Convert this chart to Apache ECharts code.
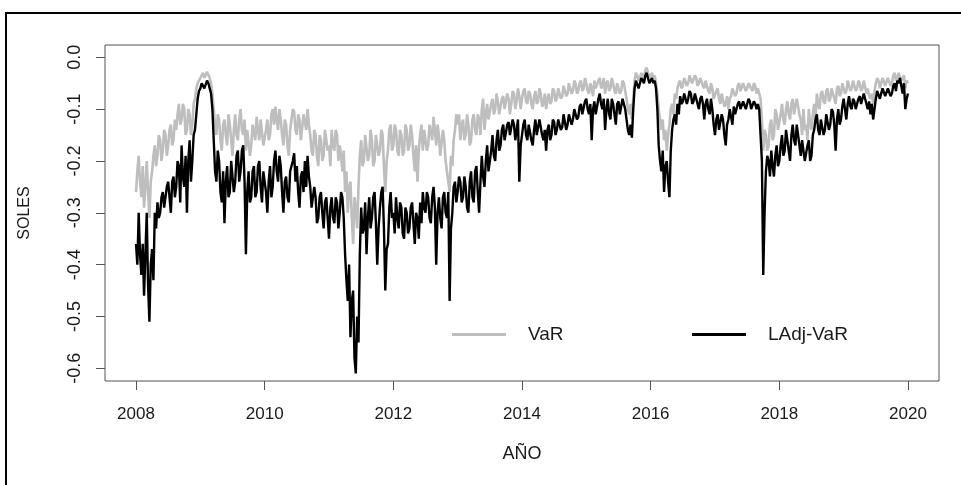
<!DOCTYPE html>
<html>
<head>
<meta charset="utf-8">
<script src="https://cdn.jsdelivr.net/npm/echarts@6/dist/echarts.min.js"></script>
<style>
  html, body { margin: 0; padding: 0; background: #fff; }
  #chart { width: 961px; height: 485px; }
</style>
</head>
<body>
<div id="chart"></div>
<script>
// lecturas cada ~semana y media (48 por año), 2008.0 .. 2020.0
const varVals = [
  // 2008
  -0.26,-0.22,-0.19,-0.24,-0.27,-0.21,-0.29,-0.25,
  -0.20,-0.26,-0.31,-0.24,-0.22,-0.19,-0.17,-0.21,
  -0.19,-0.15,-0.16,-0.20,-0.18,-0.14,-0.15,-0.19,
  -0.17,-0.14,-0.13,-0.17,-0.16,-0.12,-0.14,-0.11,
  -0.09,-0.13,-0.12,-0.09,-0.10,-0.15,-0.14,-0.10,
  -0.11,-0.15,-0.13,-0.09,-0.08,-0.06,-0.05,-0.045,
  // 2009
  -0.04,-0.035,-0.03,-0.04,-0.035,-0.028,-0.03,-0.04,
  -0.05,-0.07,-0.10,-0.13,-0.15,-0.11,-0.12,-0.16,
  -0.18,-0.13,-0.12,-0.15,-0.17,-0.11,-0.13,-0.16,
  -0.19,-0.14,-0.11,-0.15,-0.16,-0.12,-0.10,-0.14,
  -0.15,-0.12,-0.18,-0.14,-0.14,-0.19,-0.17,-0.13,
  -0.13,-0.16,-0.115,-0.14,-0.16,-0.12,-0.12,-0.17,
  // 2010
  -0.17,-0.14,-0.12,-0.16,-0.15,-0.11,-0.10,-0.13,
  -0.095,-0.12,-0.14,-0.10,-0.12,-0.15,-0.17,-0.12,
  -0.13,-0.17,-0.19,-0.14,-0.12,-0.10,-0.105,-0.14,
  -0.15,-0.11,-0.12,-0.16,-0.16,-0.11,-0.11,-0.14,
  -0.10,-0.13,-0.15,-0.18,-0.19,-0.14,-0.15,-0.19,
  -0.21,-0.15,-0.16,-0.20,-0.19,-0.14,-0.14,-0.18,
  // 2011
  -0.17,-0.21,-0.14,-0.17,-0.18,-0.14,-0.15,-0.20,
  -0.17,-0.19,-0.22,-0.18,-0.26,-0.22,-0.30,-0.25,
  -0.24,-0.31,-0.36,-0.27,-0.29,-0.33,-0.25,-0.19,
  -0.16,-0.21,-0.20,-0.15,-0.15,-0.20,-0.19,-0.14,
  -0.16,-0.21,-0.20,-0.15,-0.15,-0.19,-0.18,-0.14,
  -0.15,-0.21,-0.26,-0.20,-0.18,-0.14,-0.13,-0.18,
  // 2012
  -0.17,-0.13,-0.14,-0.18,-0.19,-0.14,-0.15,-0.19,
  -0.18,-0.13,-0.14,-0.18,-0.17,-0.13,-0.15,-0.19,
  -0.22,-0.17,-0.24,-0.18,-0.15,-0.13,-0.18,-0.14,
  -0.14,-0.18,-0.17,-0.13,-0.13,-0.16,-0.115,-0.14,
  -0.17,-0.13,-0.15,-0.19,-0.19,-0.14,-0.16,-0.20,
  -0.20,-0.24,-0.26,-0.19,-0.21,-0.16,-0.14,-0.11,
  // 2013
  -0.13,-0.11,-0.16,-0.13,-0.12,-0.16,-0.15,-0.11,
  -0.13,-0.17,-0.16,-0.12,-0.11,-0.14,-0.15,-0.11,
  -0.12,-0.15,-0.10,-0.08,-0.14,-0.11,-0.09,-0.12,
  -0.12,-0.09,-0.08,-0.11,-0.10,-0.07,-0.085,-0.11,
  -0.11,-0.08,-0.075,-0.10,-0.10,-0.07,-0.08,-0.11,
  -0.09,-0.065,-0.07,-0.10,-0.085,-0.06,-0.075,-0.10,
  // 2014
  -0.08,-0.065,-0.06,-0.085,-0.09,-0.065,-0.07,-0.09,
  -0.10,-0.075,-0.065,-0.09,-0.085,-0.06,-0.07,-0.095,
  -0.09,-0.07,-0.10,-0.08,-0.07,-0.09,-0.085,-0.06,
  -0.065,-0.085,-0.08,-0.06,-0.06,-0.08,-0.075,-0.055,
  -0.055,-0.075,-0.07,-0.05,-0.05,-0.07,-0.065,-0.045,
  -0.05,-0.07,-0.065,-0.05,-0.045,-0.065,-0.06,-0.04,
  // 2015
  -0.05,-0.065,-0.07,-0.05,-0.06,-0.075,-0.045,-0.06,
  -0.06,-0.045,-0.04,-0.06,-0.055,-0.04,-0.07,-0.05,
  -0.045,-0.065,-0.06,-0.04,-0.05,-0.065,-0.07,-0.05,
  -0.05,-0.07,-0.065,-0.045,-0.05,-0.065,-0.08,-0.10,
  -0.11,-0.09,-0.12,-0.08,-0.045,-0.03,-0.035,-0.045,
  -0.04,-0.03,-0.03,-0.04,-0.025,-0.02,-0.03,-0.04,
  // 2016
  -0.035,-0.03,-0.04,-0.035,-0.05,-0.07,-0.10,-0.12,
  -0.14,-0.12,-0.16,-0.14,-0.18,-0.15,-0.13,-0.10,
  -0.09,-0.11,-0.07,-0.08,-0.06,-0.05,-0.045,-0.06,
  -0.055,-0.04,-0.04,-0.055,-0.05,-0.035,-0.035,-0.05,
  -0.05,-0.035,-0.04,-0.055,-0.05,-0.04,-0.04,-0.055,
  -0.06,-0.045,-0.045,-0.065,-0.07,-0.05,-0.06,-0.08,
  // 2017
  -0.08,-0.065,-0.06,-0.08,-0.09,-0.07,-0.07,-0.095,
  -0.09,-0.075,-0.10,-0.08,-0.075,-0.06,-0.06,-0.075,
  -0.07,-0.055,-0.05,-0.065,-0.065,-0.05,-0.05,-0.065,
  -0.06,-0.05,-0.05,-0.06,-0.065,-0.05,-0.055,-0.07,
  -0.06,-0.07,-0.08,-0.12,-0.18,-0.14,-0.15,-0.18,
  -0.17,-0.13,-0.12,-0.16,-0.15,-0.10,-0.11,-0.14,
  // 2018
  -0.14,-0.11,-0.09,-0.12,-0.13,-0.10,-0.085,-0.11,
  -0.12,-0.09,-0.08,-0.11,-0.11,-0.08,-0.08,-0.11,
  -0.12,-0.15,-0.10,-0.14,-0.13,-0.16,-0.10,-0.13,
  -0.14,-0.11,-0.09,-0.12,-0.07,-0.09,-0.10,-0.07,
  -0.065,-0.085,-0.09,-0.065,-0.06,-0.085,-0.08,-0.06,
  -0.06,-0.08,-0.09,-0.06,-0.055,-0.075,-0.07,-0.05,
  // 2019
  -0.05,-0.07,-0.065,-0.045,-0.045,-0.065,-0.06,-0.045,
  -0.045,-0.065,-0.06,-0.045,-0.05,-0.065,-0.06,-0.045,
  -0.045,-0.07,-0.06,-0.075,-0.08,-0.07,-0.09,-0.065,
  -0.05,-0.04,-0.045,-0.06,-0.06,-0.04,-0.04,-0.055,
  -0.055,-0.04,-0.04,-0.055,-0.05,-0.035,-0.03,-0.045,
  -0.04,-0.03,-0.03,-0.045,-0.045,-0.035,-0.06,-0.045,
  // 2020
  -0.05
];

const ladjVals = [
  // 2008
  -0.36,-0.40,-0.30,-0.38,-0.42,-0.36,-0.46,-0.38,
  -0.30,-0.44,-0.51,-0.40,-0.37,-0.43,-0.30,-0.33,
  -0.28,-0.31,-0.30,-0.27,-0.26,-0.29,-0.29,-0.25,
  -0.24,-0.27,-0.30,-0.24,-0.23,-0.27,-0.25,-0.20,
  -0.21,-0.28,-0.17,-0.23,-0.25,-0.19,-0.30,-0.20,
  -0.16,-0.24,-0.20,-0.15,-0.14,-0.11,-0.08,-0.065,
  // 2009
  -0.06,-0.05,-0.05,-0.06,-0.06,-0.045,-0.05,-0.06,
  -0.07,-0.10,-0.16,-0.22,-0.24,-0.18,-0.20,-0.26,
  -0.28,-0.22,-0.32,-0.24,-0.21,-0.27,-0.26,-0.20,
  -0.20,-0.26,-0.24,-0.19,-0.18,-0.24,-0.22,-0.18,
  -0.17,-0.24,-0.38,-0.26,-0.22,-0.28,-0.27,-0.22,
  -0.21,-0.27,-0.26,-0.21,-0.20,-0.25,-0.28,-0.22,
  // 2010
  -0.22,-0.26,-0.30,-0.24,-0.21,-0.27,-0.25,-0.20,
  -0.18,-0.22,-0.24,-0.19,-0.21,-0.26,-0.30,-0.24,
  -0.23,-0.27,-0.28,-0.22,-0.22,-0.20,-0.185,-0.24,
  -0.21,-0.26,-0.29,-0.23,-0.22,-0.26,-0.20,-0.25,
  -0.19,-0.23,-0.25,-0.29,-0.29,-0.25,-0.27,-0.32,
  -0.31,-0.27,-0.26,-0.30,-0.33,-0.28,-0.27,-0.31,
  // 2011
  -0.35,-0.29,-0.27,-0.31,-0.32,-0.27,-0.28,-0.33,
  -0.30,-0.26,-0.27,-0.31,-0.38,-0.43,-0.47,-0.40,
  -0.54,-0.47,-0.45,-0.58,-0.61,-0.50,-0.55,-0.38,
  -0.29,-0.34,-0.33,-0.28,-0.38,-0.31,-0.27,-0.33,
  -0.31,-0.27,-0.26,-0.32,-0.40,-0.33,-0.29,-0.26,
  -0.25,-0.33,-0.45,-0.37,-0.36,-0.29,-0.26,-0.31,
  // 2012
  -0.30,-0.34,-0.27,-0.31,-0.33,-0.28,-0.29,-0.34,
  -0.35,-0.29,-0.30,-0.34,-0.33,-0.29,-0.28,-0.32,
  -0.36,-0.30,-0.31,-0.35,-0.28,-0.32,-0.26,-0.29,
  -0.30,-0.26,-0.27,-0.31,-0.32,-0.27,-0.25,-0.29,
  -0.40,-0.30,-0.27,-0.31,-0.33,-0.27,-0.26,-0.30,
  -0.31,-0.26,-0.47,-0.33,-0.30,-0.25,-0.24,-0.28,
  // 2013
  -0.26,-0.23,-0.24,-0.28,-0.27,-0.23,-0.25,-0.29,
  -0.30,-0.24,-0.22,-0.27,-0.28,-0.22,-0.21,-0.26,
  -0.30,-0.24,-0.19,-0.23,-0.25,-0.20,-0.17,-0.22,
  -0.22,-0.18,-0.15,-0.19,-0.20,-0.16,-0.14,-0.18,
  -0.17,-0.14,-0.13,-0.16,-0.16,-0.13,-0.125,-0.15,
  -0.15,-0.12,-0.13,-0.16,-0.14,-0.12,-0.24,-0.17,
  // 2014
  -0.15,-0.13,-0.12,-0.15,-0.16,-0.13,-0.13,-0.16,
  -0.17,-0.14,-0.12,-0.15,-0.15,-0.12,-0.12,-0.15,
  -0.16,-0.14,-0.18,-0.14,-0.13,-0.16,-0.15,-0.12,
  -0.125,-0.15,-0.14,-0.12,-0.12,-0.14,-0.135,-0.11,
  -0.11,-0.14,-0.13,-0.11,-0.11,-0.13,-0.12,-0.10,
  -0.10,-0.12,-0.115,-0.095,-0.09,-0.11,-0.11,-0.085,
  // 2015
  -0.08,-0.10,-0.11,-0.09,-0.16,-0.10,-0.085,-0.11,
  -0.11,-0.08,-0.07,-0.09,-0.10,-0.08,-0.14,-0.10,
  -0.08,-0.11,-0.12,-0.08,-0.09,-0.11,-0.13,-0.09,
  -0.085,-0.11,-0.11,-0.08,-0.08,-0.10,-0.12,-0.14,
  -0.15,-0.13,-0.155,-0.10,-0.06,-0.045,-0.045,-0.06,
  -0.05,-0.04,-0.04,-0.05,-0.035,-0.03,-0.04,-0.05,
  // 2016
  -0.045,-0.04,-0.05,-0.045,-0.06,-0.10,-0.17,-0.20,
  -0.22,-0.18,-0.26,-0.21,-0.20,-0.24,-0.27,-0.18,
  -0.14,-0.12,-0.11,-0.13,-0.09,-0.11,-0.075,-0.09,
  -0.085,-0.07,-0.07,-0.09,-0.08,-0.065,-0.07,-0.09,
  -0.085,-0.07,-0.07,-0.09,-0.10,-0.08,-0.075,-0.09,
  -0.12,-0.09,-0.08,-0.10,-0.11,-0.08,-0.10,-0.13,
  // 2017
  -0.15,-0.12,-0.11,-0.14,-0.14,-0.11,-0.12,-0.15,
  -0.17,-0.13,-0.12,-0.10,-0.115,-0.13,-0.095,-0.11,
  -0.11,-0.09,-0.085,-0.10,-0.10,-0.085,-0.085,-0.10,
  -0.09,-0.08,-0.085,-0.10,-0.10,-0.085,-0.09,-0.10,
  -0.09,-0.10,-0.15,-0.20,-0.42,-0.30,-0.22,-0.19,
  -0.20,-0.23,-0.18,-0.21,-0.23,-0.19,-0.17,-0.21,
  // 2018
  -0.20,-0.17,-0.15,-0.19,-0.18,-0.14,-0.14,-0.18,
  -0.20,-0.15,-0.13,-0.16,-0.17,-0.13,-0.13,-0.17,
  -0.19,-0.16,-0.16,-0.20,-0.20,-0.17,-0.16,-0.20,
  -0.19,-0.15,-0.14,-0.12,-0.11,-0.14,-0.15,-0.12,
  -0.12,-0.15,-0.14,-0.11,-0.11,-0.14,-0.13,-0.10,
  -0.105,-0.13,-0.18,-0.12,-0.10,-0.13,-0.12,-0.095,
  // 2019
  -0.08,-0.10,-0.12,-0.09,-0.075,-0.095,-0.10,-0.08,
  -0.085,-0.10,-0.10,-0.08,-0.075,-0.09,-0.09,-0.07,
  -0.07,-0.09,-0.10,-0.085,-0.11,-0.09,-0.12,-0.10,
  -0.08,-0.065,-0.065,-0.08,-0.08,-0.06,-0.06,-0.075,
  -0.075,-0.06,-0.06,-0.075,-0.07,-0.055,-0.05,-0.065,
  -0.045,-0.05,-0.04,-0.055,-0.07,-0.05,-0.10,-0.08,
  // 2020
  -0.07
];

const yearTicks = [2008, 2010, 2012, 2014, 2016, 2018, 2020];
const solesTicks = [-0.6, -0.5, -0.4, -0.3, -0.2, -0.1, 0.0];

// fecha de cada lectura
const fechas = varVals.map((_, i) => 2008 + i / 48);

const textColor = "#1a1a1a";
const font = "Liberation Sans, Arial, sans-serif";

const chart = echarts.init(document.getElementById("chart"), null, { renderer: "canvas" });

const option = {
  animation: false,
  backgroundColor: "#fff",
  graphic: [
    {
      type: "rect",
      shape: { x: 6, y: 13, width: 1000, height: 520 },
      style: { fill: "none", stroke: "#000", lineWidth: 2 },
      silent: true,
    },
  ],
  grid: {
    left: 105,
    right: 22,
    top: 45,
    bottom: 104,
    show: true,
    borderColor: "#555",
    borderWidth: 1,
    backgroundColor: "transparent",
  },
  legend: [
    {
      data: ["VaR"],
      left: 447,
      top: 320,
      icon: "rect",
      itemWidth: 54,
      itemHeight: 3,
      textStyle: { color: textColor, fontSize: 19, fontFamily: font, padding: [0, 0, 0, 17] },
    },
    {
      data: ["LAdj-VaR"],
      left: 687,
      top: 320,
      icon: "rect",
      itemWidth: 54,
      itemHeight: 3,
      textStyle: { color: textColor, fontSize: 19, fontFamily: font, padding: [0, 0, 0, 17] },
    },
  ],
  xAxis: {
    type: "value",
    min: 2007.518,
    max: 2020.482,
    name: "AÑO",
    nameLocation: "middle",
    nameGap: 64,
    nameTextStyle: { color: textColor, fontSize: 18, fontFamily: font },
    axisLine: { show: false, onZero: false },
    axisTick: { show: true, length: 9, customValues: yearTicks, lineStyle: { color: "#555" } },
    axisLabel: {
      customValues: yearTicks,
      margin: 25,
      color: textColor,
      fontSize: 17,
      fontFamily: font,
      formatter: (v) => String(v),
    },
    splitLine: { show: false },
  },
  yAxis: {
    type: "value",
    min: -0.6245,
    max: 0.0237,
    name: "SOLES",
    nameLocation: "middle",
    nameRotate: 90,
    nameGap: 72,
    nameTextStyle: { color: textColor, fontSize: 16, fontFamily: font },
    axisLine: { show: false, onZero: false },
    axisTick: { show: true, length: 9, customValues: solesTicks, lineStyle: { color: "#555" } },
    axisLabel: {
      customValues: solesTicks,
      rotate: 90,
      margin: 21,
      color: textColor,
      fontSize: 18,
      fontFamily: font,
      formatter: (v) => v.toFixed(1),
    },
    splitLine: { show: false },
  },
  series: [
    {
      name: "VaR",
      type: "line",
      data: fechas.map((t, i) => [t, varVals[i]]),
      showSymbol: false,
      symbol: "none",
      color: "#bebebe",
      lineStyle: { width: 2.6, color: "#bebebe" },
    },
    {
      name: "LAdj-VaR",
      type: "line",
      data: fechas.map((t, i) => [t, ladjVals[i]]),
      showSymbol: false,
      symbol: "none",
      color: "#000",
      lineStyle: { width: 2.4, color: "#000" },
    },
  ],
};

chart.setOption(option);
</script>
</body>
</html>
